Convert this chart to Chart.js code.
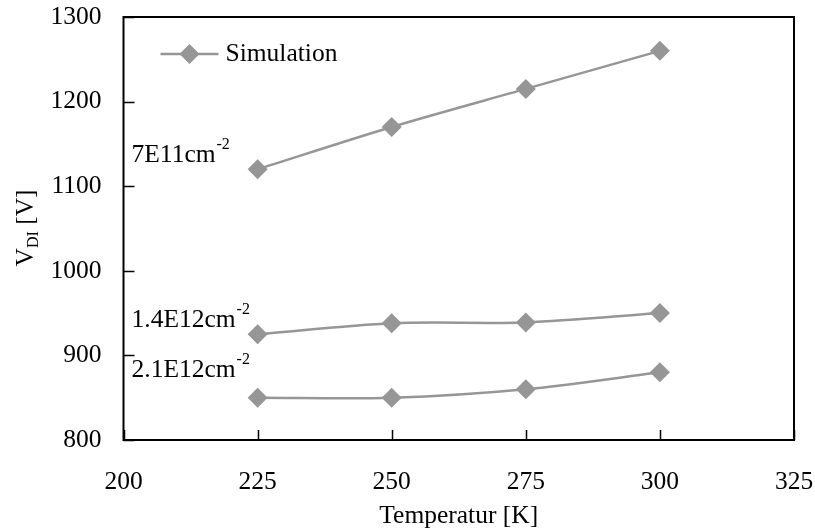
<!DOCTYPE html>
<html>
<head>
<meta charset="utf-8">
<script src="https://cdn.jsdelivr.net/npm/chart.js@4/dist/chart.umd.min.js"></script>
<style>
  html, body { margin: 0; padding: 0; background: #ffffff; }
  #wrap { width: 815px; height: 528px; position: relative; }
  canvas { display: block; }
</style>
</head>
<body>
<div id="wrap"><canvas id="chart" width="815" height="528"></canvas></div>
<script>
// ---- Data ----
const temperatures = [225, 250, 275, 300];            // K
const vdi7E11  = [1120, 1170, 1215, 1260];             // V, 7E11 cm^-2
const vdi14E12 = [925, 938, 939, 950];                 // V, 1.4E12 cm^-2
const vdi21E12 = [850, 850, 860, 880];                 // V, 2.1E12 cm^-2
const seriesNames = ['7E11', '1.4E12', '2.1E12'];
const legendLabel = 'Simulation';
const xTickRange = [200, 325, 25];
const yTickRange = [800, 1300, 100];
const xTitle = 'Temperatur [K]';

const FONT = "'Liberation Serif', 'Times New Roman', serif";
const FS = 25.5;
const GRAY = '#969696';

function pts(vals) { return temperatures.map((t, i) => ({ x: t, y: vals[i] })); }

function ds(vals, name) {
  return {
    label: name,
    data: pts(vals),
    borderColor: GRAY,
    backgroundColor: GRAY,
    borderWidth: 2.5,
    pointStyle: 'rectRot',
    pointRadius: 10,
    pointHoverRadius: 10,
    pointBorderWidth: 0,
    pointBackgroundColor: GRAY,
    tension: 0.3,
    clip: false
  };
}

// Frame, inward ticks, axis title with subscript, in-plot labels, legend
const decorations = {
  id: 'decorations',
  afterDraw(chart) {
    const { ctx, chartArea: a, scales } = chart;
    const xs = scales.x, ys = scales.y;
    ctx.save();
    // frame
    ctx.strokeStyle = '#000';
    ctx.lineWidth = 2;
    ctx.strokeRect(a.left, a.top, a.right - a.left, a.bottom - a.top);
    // inward tick marks
    ctx.lineWidth = 1.5;
    ctx.beginPath();
    xs.ticks.forEach(t => {
      const px = Math.round(xs.getPixelForValue(t.value)) + 0.5;
      ctx.moveTo(px, a.bottom); ctx.lineTo(px, a.bottom - 10);
    });
    ys.ticks.forEach(t => {
      const py = Math.round(ys.getPixelForValue(t.value)) + 0.5;
      ctx.moveTo(a.left, py); ctx.lineTo(a.left + 11, py);
    });
    ctx.stroke();

    // y axis title: V_DI [V]
    ctx.fillStyle = '#000';
    ctx.textBaseline = 'alphabetic';
    ctx.textAlign = 'left';
    const big = FS + 'px ' + FONT, small = '16px ' + FONT;
    ctx.font = big; const wV = ctx.measureText('V').width;
    const wRest = ctx.measureText(' [V]').width;
    ctx.font = small; const wDI = ctx.measureText('DI').width;
    const total = wV + wDI + wRest;
    ctx.save();
    ctx.translate(33, 228);
    ctx.rotate(-Math.PI / 2);
    let cx = -total / 2;
    ctx.font = big; ctx.fillText('V', cx, 0); cx += wV;
    ctx.font = small; ctx.fillText('DI', cx, 5); cx += wDI;
    ctx.font = big; ctx.fillText(' [V]', cx, 0);
    ctx.restore();

    // series labels with superscript
    const anchors = [1129, 934, 875];
    seriesNames.forEach((n, i) => {
      const y = ys.getPixelForValue(anchors[i]);
      const x = a.left + 8;
      ctx.font = big;
      const main = n + 'cm';
      ctx.fillText(main, x, y);
      const w = ctx.measureText(main).width;
      ctx.font = small;
      ctx.fillText('-2', x + w + 1, y - 13);
    });

    // legend: line + diamond + text
    const ly = a.top + 37, lx0 = a.left + 37, lx1 = a.left + 95;
    ctx.strokeStyle = GRAY; ctx.lineWidth = 2.5;
    ctx.beginPath(); ctx.moveTo(lx0, ly); ctx.lineTo(lx1, ly); ctx.stroke();
    const dc = (lx0 + lx1) / 2, r = 10;
    ctx.fillStyle = GRAY;
    ctx.beginPath();
    ctx.moveTo(dc, ly - r); ctx.lineTo(dc + r, ly); ctx.lineTo(dc, ly + r); ctx.lineTo(dc - r, ly);
    ctx.closePath(); ctx.fill();
    ctx.fillStyle = '#000';
    ctx.font = big; ctx.textBaseline = 'middle';
    ctx.fillText(legendLabel, lx1 + 7, ly);
    ctx.restore();
  }
};

Chart.defaults.font.family = FONT;
Chart.defaults.color = '#000';

new Chart(document.getElementById('chart'), {
  type: 'line',
  data: {
    datasets: [
      ds(vdi7E11, seriesNames[0]),
      ds(vdi14E12, seriesNames[1]),
      ds(vdi21E12, seriesNames[2])
    ]
  },
  options: {
    responsive: false,
    devicePixelRatio: 1,
    animation: false,
    events: [],
    layout: { padding: { left: 0, right: 21, top: 17, bottom: 0 } },
    plugins: { legend: { display: false }, tooltip: { enabled: false } },
    scales: {
      x: {
        type: 'linear',
        min: xTickRange[0], max: xTickRange[1],
        ticks: { stepSize: xTickRange[2], font: { size: FS }, padding: 27, maxRotation: 0,
                 callback: v => String(v) },
        grid: { display: false, drawTicks: false },
        border: { display: false },
        title: { display: true, text: xTitle, font: { size: FS, lineHeight: 0.9 }, padding: { top: 6, bottom: 0 } },
        afterFit(s) { s.height = 88; s.paddingLeft = 0; s.paddingRight = 0; }
      },
      y: {
        type: 'linear',
        min: yTickRange[0], max: yTickRange[1],
        ticks: { stepSize: yTickRange[2], font: { size: FS }, padding: 22,
                 callback: v => String(v) },
        grid: { display: false, drawTicks: false },
        border: { display: false },
        afterFit(s) { s.width = 123.5; s.paddingTop = 0; s.paddingBottom = 0; }
      }
    }
  },
  plugins: [decorations]
});
</script>
</body>
</html>
